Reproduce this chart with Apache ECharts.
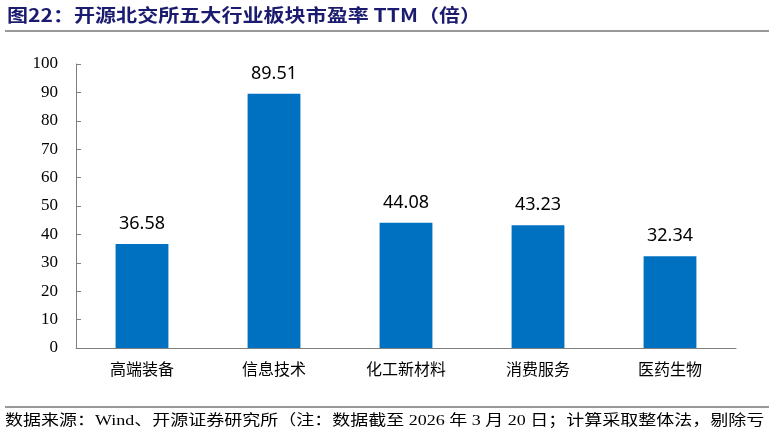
<!DOCTYPE html>
<html><head><meta charset="utf-8">
<script src="https://cdn.jsdelivr.net/npm/echarts@6/dist/echarts.min.js"></script>
<style>html,body{margin:0;padding:0;background:#fff}#c{width:774px;height:437px}</style>
</head><body><div id="c"></div>
<script>
const categories = ['高端装备','信息技术','化工新材料','消费服务','医药生物'];
const peValues = [36.58, 89.51, 44.08, 43.23, 32.34];
const titleText = '图22：开源北交所五大行业板块市盈率 TTM（倍）';
const sourceText = '数据来源：Wind、开源证券研究所（注：数据截至 2026 年 3 月 20 日；计算采取整体法，剔除亏';

const chart = echarts.init(document.getElementById('c'));
chart.setOption({
  animation: false,
  backgroundColor: '#fff',
  graphic: [
    {type: 'text', x: 7, y: 6, scaleX: 1.17, style: {text: titleText, fill: '#1b1b6f', fontSize: 18, fontWeight: 'bold', fontFamily: '"Noto Sans CJK SC", "Liberation Serif", serif', verticalAlign: 'top'}},
    {type: 'text', x: 5, y: 414, scaleX: 1.2, style: {text: sourceText, fill: '#000', fontSize: 15, fontFamily: '"Liberation Serif", "Noto Sans CJK SC", serif', verticalAlign: 'top'}},
    {type: 'line', shape: {x1: 5, y1: 31, x2: 769, y2: 31}, style: {stroke: '#333', lineWidth: 1}},
    {type: 'line', shape: {x1: 5, y1: 407, x2: 769, y2: 407}, style: {stroke: '#333', lineWidth: 1}}
  ],
  grid: {left: 76, right: 38, top: 64, bottom: 89},
  xAxis: {
    type: 'category', data: categories,
    axisLine: {lineStyle: {color: '#7f7f7f', width: 1}},
    axisTick: {inside: true, length: 5, lineStyle: {color: '#7f7f7f'}},
    axisLabel: {color: '#000', fontSize: 16, margin: 13, fontFamily: '"Noto Sans CJK SC", serif'}
  },
  yAxis: {
    type: 'value', min: 0, max: 100, interval: 10,
    splitLine: {show: false},
    axisLine: {show: true, lineStyle: {color: '#7f7f7f', width: 1}},
    axisTick: {show: true, inside: true, length: 5, lineStyle: {color: '#7f7f7f'}},
    axisLabel: {color: '#000', fontSize: 17, margin: 18, fontFamily: '"Liberation Serif", serif'}
  },
  series: [{
    type: 'bar', data: peValues, barWidth: '40%',
    itemStyle: {color: '#0070c0'},
    label: {show: true, position: 'top', distance: 11, color: '#000', fontSize: 18, fontFamily: '"Noto Sans", "Open Sans", sans-serif', formatter: p => p.value.toFixed(2)}
  }]
});
</script></body></html>
